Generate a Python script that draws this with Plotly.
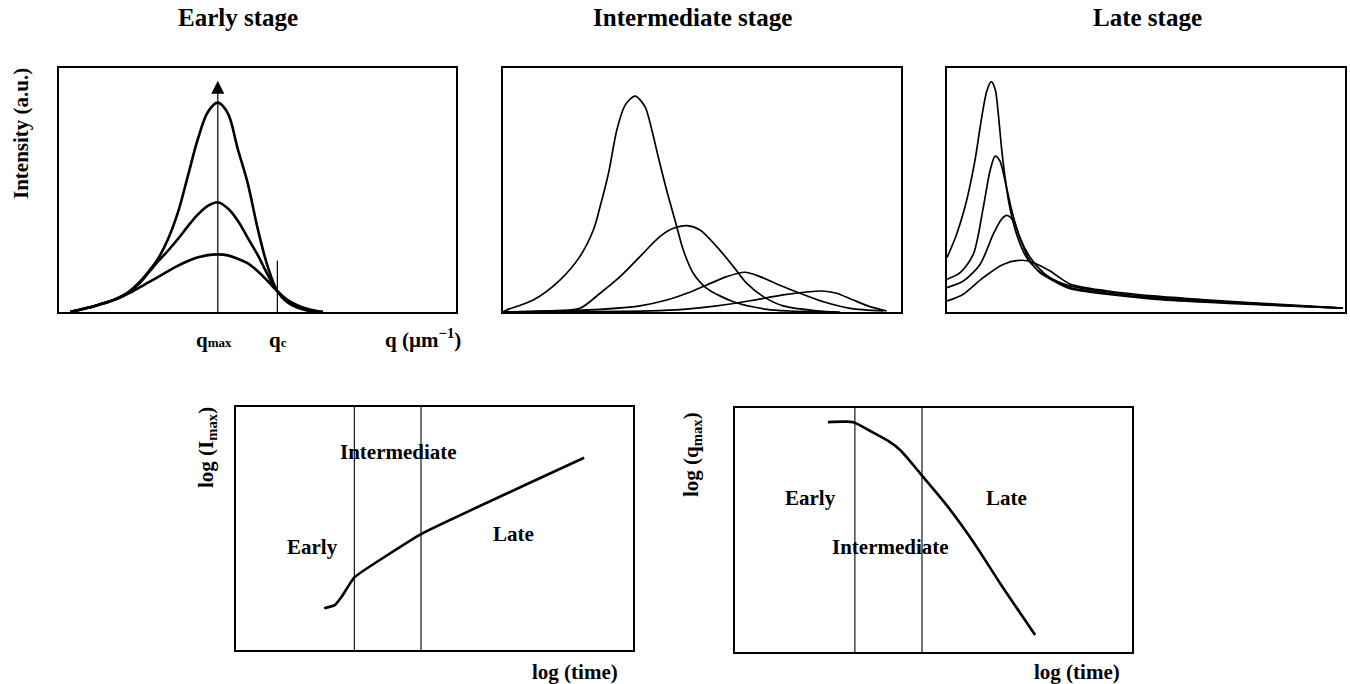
import plotly.graph_objects as go

W, H = 1350, 684
FONT = "Liberation Serif, Times New Roman, serif"

# ---------------- Early stage: profiles growing at fixed q_max ----------------
q_max_early = 40.0
q_c = 55.0
arrow_top = 94.8
q_c_line_top = 21.0

early_q = [2.8, 5.0, 7.5, 10.0, 12.5, 15.0, 17.5, 20.0, 22.5, 25.0, 27.5, 30.0, 32.5,
           35.0, 37.5, 40.0, 42.5, 45.0, 47.5, 50.0, 52.5, 55.0, 57.5, 60.0, 62.5, 65.0, 66.5]
early_I_t1 = [0.0, 0.8, 1.8, 3.0, 4.2, 5.6, 7.6, 9.8, 12.1, 14.4, 16.8, 19.0, 20.9,
              22.4, 23.3, 23.6, 23.2, 21.8, 20.0, 16.8, 12.8, 8.5, 5.0, 2.8, 1.3, 0.4, 0.0]
early_I_t2 = [0.0, 0.8, 1.8, 3.0, 4.2, 5.8, 8.0, 11.3, 16.0, 20.8, 25.2, 30.0, 35.2,
              40.0, 43.5, 45.0, 42.5, 37.5, 30.5, 23.5, 15.5, 8.5, 4.6, 2.4, 1.0, 0.2, 0.0]
early_I_t3 = [0.0, 0.8, 1.8, 3.0, 4.2, 5.9, 8.2, 11.8, 16.5, 22.0, 30.0, 41.0, 56.0,
              71.0, 82.0, 85.8, 81.5, 67.0, 53.0, 34.5, 19.0, 8.5, 4.0, 1.8, 0.6, 0.0, 0.0]

# ---------------- Intermediate stage: peaks shift to lower q ----------------
mid_q_1 = [0.0, 36.9, 45.3, 53.7, 62.1, 70.4, 76.3, 80.1, 83.8, 88.0, 92.2, 96.4]
mid_I_1 = [0.0, 0.5, 1.1, 2.5, 4.6, 7.0, 8.2, 8.6, 7.7, 4.9, 2.2, 0.4]

mid_q_2 = [0.0, 24.4, 34.4, 41.1, 46.2, 51.2, 56.2, 60.8, 64.6, 68.8, 74.6, 80.5, 87.2, 95.6]
mid_I_2 = [0.0, 1.1, 2.5, 4.9, 7.7, 11.1, 14.5, 16.3, 14.5, 11.5, 7.7, 4.2, 1.5, 0.4]

mid_q_3 = [0.0, 11.8, 19.3, 24.4, 29.4, 34.4, 39.4, 42.8, 46.2, 49.5, 53.7, 57.9, 61.2, 65.4, 70.4, 78.8, 84.7]
mid_I_3 = [0.0, 0.5, 1.5, 7.7, 14.5, 22.7, 30.9, 34.3, 35.4, 33.6, 26.8, 18.6, 11.8, 6.3, 2.5, 0.5, 0.0]

mid_q_4 = [0.0, 0.9, 7.6, 14.3, 19.3, 22.7, 24.4, 26.5, 28.6, 30.7, 33.2, 35.7, 37.4, 39.0,
           41.1, 43.2, 45.3, 47.8, 51.2, 57.9, 66.3, 72.1, 82.0]
mid_I_4 = [0.0, 0.8, 4.9, 13.1, 22.7, 33.6, 43.2, 56.8, 74.6, 84.8, 88.5, 84.1, 74.6, 63.6,
           50.0, 37.7, 25.4, 15.9, 9.7, 4.2, 1.1, 0.4, 0.0]

# ---------------- Late stage: sharp peaks with a common tail ----------------
late_q_1 = [0.0, 4.1, 9.1, 14.1, 18.8, 21.7, 25.9, 30.9, 40.0, 51.8, 65.0, 76.9, 88.0, 99.5]
late_I_1 = [4.5, 7.3, 14.1, 19.5, 21.2, 20.2, 16.8, 11.5, 8.7, 6.6, 5.0, 3.8, 2.7, 1.6]

late_q_2 = [0.0, 4.1, 8.3, 11.6, 13.7, 15.0, 16.7, 18.3, 20.4, 23.4, 27.6, 30.9, 40.0, 51.8, 65.0, 76.9, 88.0, 99.5]
late_I_2 = [10.0, 12.7, 19.5, 31.8, 38.0, 39.6, 37.3, 30.5, 22.3, 16.1, 12.6, 10.7, 8.3, 6.1, 4.6, 3.5, 2.5, 1.6]

late_q_3 = [0.0, 3.3, 6.6, 9.1, 10.8, 12.1, 13.3, 14.6, 16.3, 18.3, 20.9, 24.2, 27.6, 30.9,
            40.0, 51.8, 65.0, 76.9, 88.0, 99.5]
late_I_3 = [13.4, 16.1, 23.6, 42.7, 57.8, 63.9, 61.9, 53.7, 41.4, 30.5, 22.3, 16.1, 12.4, 10.0,
            7.8, 5.7, 4.3, 3.3, 2.4, 1.6]

late_q_4 = [0.0, 2.4, 4.9, 7.0, 8.7, 10.0, 11.1, 12.1, 12.9, 13.7, 14.6, 15.8, 17.5, 20.0,
            23.4, 27.6, 30.9, 40.0, 51.8, 65.0, 76.9, 88.0, 99.5]
late_I_4 = [22.3, 31.8, 45.5, 61.9, 79.6, 90.6, 94.4, 91.3, 81.0, 67.3, 55.0, 42.7, 31.8, 22.3,
            16.3, 12.0, 9.6, 7.3, 5.3, 4.0, 3.1, 2.3, 1.6]

# ---------------- Time evolution of peak intensity and position ----------------
imax_bounds = [29.8, 46.6]
imax_logt = [22.2, 24.9, 26.6, 29.8, 46.6, 87.7]
imax_logI = [17.2, 18.5, 21.9, 29.9, 47.7, 79.1]

qmax_bounds = [30.2, 47.1]
qmax_logt = [23.4, 27.3, 29.8, 34.4, 38.6, 41.6, 47.0, 53.3, 60.0, 66.8, 75.6]
qmax_logq = [94.2, 94.4, 94.2, 90.3, 86.5, 82.8, 72.5, 60.2, 45.2, 28.1, 7.0]

stage_names = ["Early", "Intermediate", "Late"]
imax_label_pos = [(19.3, 42.5), (40.9, 81.6), (69.9, 47.7)]
qmax_label_pos = [(18.9, 63.0), (39.2, 43.2), (68.4, 63.0)]

# panel frames in pixels: left, top, right, bottom
boxes = [
    (59, 68, 456, 312),
    (503, 68, 901, 312),
    (947, 68, 1345, 312),
    (236, 407, 633, 650),
    (735, 408, 1132, 652),
]

fig = go.Figure()


def line(x, y, ax, width=1.6, shape="spline", smoothing=1.0):
    fig.add_trace(go.Scatter(
        x=x, y=y, mode="lines", xaxis="x" + ax, yaxis="y" + ax,
        line=dict(color="black", width=width, shape=shape,
                  smoothing=smoothing if shape == "spline" else None),
        showlegend=False, hoverinfo="skip"))


# early stage
for Is in [early_I_t1, early_I_t2, early_I_t3]:
    line(early_q, Is, "", width=2.6, smoothing=1.0)
line([q_max_early, q_max_early], [0, arrow_top - 4], "", width=1.2, shape="linear")
fig.add_trace(go.Scatter(
    x=[q_max_early], y=[arrow_top], mode="markers", xaxis="x", yaxis="y",
    marker=dict(symbol="arrow-up", size=13, color="black", line=dict(width=0)),
    showlegend=False, hoverinfo="skip", cliponaxis=False))
line([q_c, q_c], [0, q_c_line_top], "", width=1.2, shape="linear")

# intermediate stage
for qs, Is in [(mid_q_1, mid_I_1), (mid_q_2, mid_I_2), (mid_q_3, mid_I_3), (mid_q_4, mid_I_4)]:
    line(qs, Is, "2", width=1.7, smoothing=0.8)

# late stage
for qs, Is in [(late_q_1, late_I_1), (late_q_2, late_I_2), (late_q_3, late_I_3), (late_q_4, late_I_4)]:
    line(qs, Is, "3", width=1.7, smoothing=0.8)

# log(Imax) vs log(time)
for b in imax_bounds:
    line([b, b], [0, 100], "4", width=1.1, shape="linear")
line(imax_logt, imax_logI, "4", width=2.6, shape="spline", smoothing=0.3)

# log(qmax) vs log(time)
for b in qmax_bounds:
    line([b, b], [0, 100], "5", width=1.1, shape="linear")
line(qmax_logt, qmax_logq, "5", width=2.6, shape="spline", smoothing=0.8)

layout = dict(
    width=W, height=H, margin=dict(l=0, r=0, t=0, b=0),
    paper_bgcolor="white", plot_bgcolor="white", showlegend=False,
    font=dict(family=FONT, color="black"),
)
for i, (l, t, r, b) in enumerate(boxes):
    suffix = "" if i == 0 else str(i + 1)
    ax_common = dict(range=[0, 100], showgrid=False, zeroline=False,
                     showticklabels=False, ticks="", showline=True,
                     mirror=True, linecolor="black", linewidth=2, fixedrange=True)
    layout["xaxis" + suffix] = dict(ax_common, domain=[l / W, r / W],
                                    anchor="y" + suffix)
    layout["yaxis" + suffix] = dict(ax_common, domain=[1 - b / H, 1 - t / H],
                                    anchor="x" + suffix)

bold = dict(family=FONT, color="black", weight="bold")
annotations = []


def label(text, px, py, size=21, angle=0):
    annotations.append(dict(
        text=text, x=px / W, y=1 - py / H, xref="paper", yref="paper",
        xanchor="center", yanchor="middle", showarrow=False, textangle=angle,
        font=dict(bold, size=size)))


label("Early stage", 238, 18, size=25)
label("Intermediate stage", 692, 18, size=25)
label("Late stage", 1147, 18, size=25)
label("Intensity (a.u.)", 21, 134, size=21, angle=-90)
label('q<span style="font-size:13px">max</span>', 214, 340)
label('q<span style="font-size:13px">c</span>', 278, 340)
label("q (µm<sup>−1</sup>)", 423, 338)
label("log (I<sub>max</sub>)", 207, 447, size=21, angle=-90)
label("log (q<sub>max</sub>)", 692, 455, size=21, angle=-90)
label("log (time)", 575, 672)
label("log (time)", 1077, 672)

for name, (x, y) in zip(stage_names, imax_label_pos):
    annotations.append(dict(text=name, x=x, y=y, xref="x4", yref="y4",
                            showarrow=False, font=dict(bold, size=21)))
for name, (x, y) in zip(stage_names, qmax_label_pos):
    annotations.append(dict(text=name, x=x, y=y, xref="x5", yref="y5",
                            showarrow=False, font=dict(bold, size=21)))

layout["annotations"] = annotations
fig.update_layout(**layout)
fig.write_html("out.html")
